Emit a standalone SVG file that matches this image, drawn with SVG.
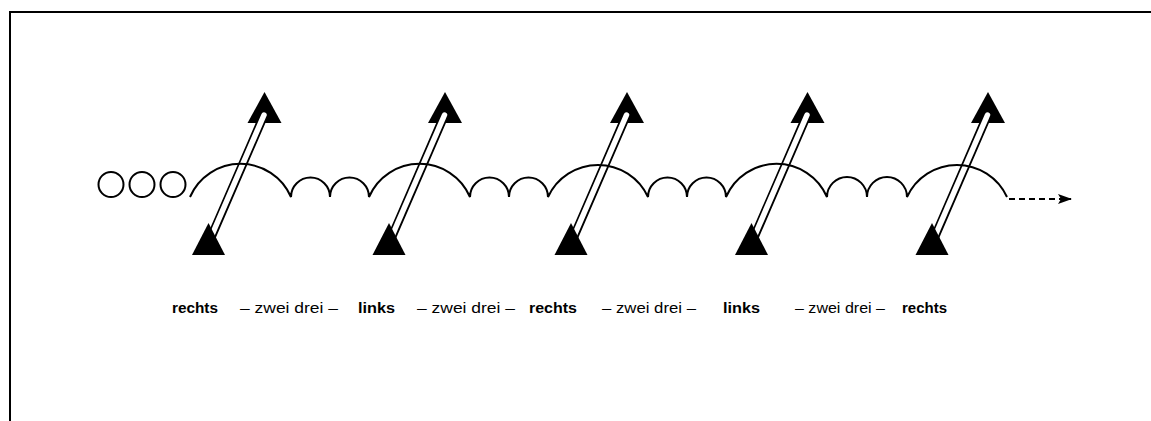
<svg xmlns="http://www.w3.org/2000/svg" width="1151" height="421" viewBox="0 0 1151 421">
  <defs>
    <style>
      .frame { fill: none; stroke: #000; stroke-width: 2; }
      .track { fill: none; stroke: #000; stroke-width: 2; stroke-linejoin: miter; }
      .ring { fill: none; stroke: #000; stroke-width: 2; }
      .tip { fill: #000; }
      .shaft-out { stroke: #000; stroke-width: 9; stroke-linecap: round; }
      .shaft-in { stroke: #fff; stroke-width: 5.5; stroke-linecap: round; }
      .dash { fill: none; stroke: #000; stroke-width: 2; stroke-dasharray: 6 4; }
      .lbl { font-family: "Liberation Sans", Arial, sans-serif; font-size: 15px; fill: #000; }
      .beat { font-weight: bold; }
    </style>
    <!-- one pole: tip triangles and a hollow shaft, placed by translate -->
    <g id="pole">
      <polygon class="tip" points="39,123 73,123 56,92"/>
      <line class="shaft-out" x1="-2" y1="248" x2="55.5" y2="115"/>
      <line class="shaft-in" x1="0" y1="243" x2="55.5" y2="115"/>
      <polygon class="tip" points="-16.5,255 16.5,255 0,223"/>
    </g>
    <marker id="head" markerWidth="14" markerHeight="10" refX="13" refY="5" orient="auto" markerUnits="userSpaceOnUse">
      <path d="M0,0 L14,5 L0,10 L3,5 Z" fill="#000"/>
    </marker>
  </defs>

  <rect width="1151" height="421" fill="#fff"/>
  <path class="frame" d="M10,421 V12 H1151"/>

  <!-- starting rings -->
  <g id="rings">
    <circle class="ring" cx="111" cy="184.5" r="12.5"/>
    <circle class="ring" cx="142" cy="184.5" r="12.5"/>
    <circle class="ring" cx="173" cy="184.5" r="12.5"/>
  </g>

  <!-- poles -->
  <g id="pole1"><use href="#pole" transform="translate(208.5,0)"/></g>
  <g id="pole2"><use href="#pole" transform="translate(389,0)"/></g>
  <g id="pole3"><use href="#pole" transform="translate(571,0)"/></g>
  <g id="pole4"><use href="#pole" transform="translate(751.5,0)"/></g>
  <g id="pole5"><use href="#pole" transform="translate(932,0)"/></g>

  <!-- step track: one big arc per pole, two small arcs between -->
  <g id="connectors">
    <path class="track" d="M190,197 A55,55 0 0 1 291,197
      A19.5,19.5 0 0 1 330,197 A19.5,19.5 0 0 1 369,197
      A55,55 0 0 1 470,197
      A19.5,19.5 0 0 1 509,197 A19.5,19.5 0 0 1 548,197
      A55,55 0 0 1 648,197
      A19.5,19.5 0 0 1 687,197 A19.5,19.5 0 0 1 726,197
      A55,55 0 0 1 827,197
      A20,20 0 0 1 867,197 A20,20 0 0 1 907,197
      A55,55 0 0 1 1007,197"/>
    <path class="dash" d="M1009,199 H1071" marker-end="url(#head)"/>
  </g>

  <!-- count -->
  <g id="count">
    <text class="lbl beat" x="172" y="313" textLength="46" lengthAdjust="spacingAndGlyphs">rechts</text>
    <text class="lbl" x="240" y="313" textLength="98" lengthAdjust="spacingAndGlyphs">– zwei drei –</text>
    <text class="lbl beat" x="358" y="313" textLength="37" lengthAdjust="spacingAndGlyphs">links</text>
    <text class="lbl" x="417" y="313" textLength="98" lengthAdjust="spacingAndGlyphs">– zwei drei –</text>
    <text class="lbl beat" x="529" y="313" textLength="48" lengthAdjust="spacingAndGlyphs">rechts</text>
    <text class="lbl" x="602" y="313" textLength="94" lengthAdjust="spacingAndGlyphs">– zwei drei –</text>
    <text class="lbl beat" x="723" y="313" textLength="37" lengthAdjust="spacingAndGlyphs">links</text>
    <text class="lbl" x="795" y="313" textLength="90" lengthAdjust="spacingAndGlyphs">– zwei drei –</text>
    <text class="lbl beat" x="902" y="313" textLength="45" lengthAdjust="spacingAndGlyphs">rechts</text>
  </g>
</svg>
